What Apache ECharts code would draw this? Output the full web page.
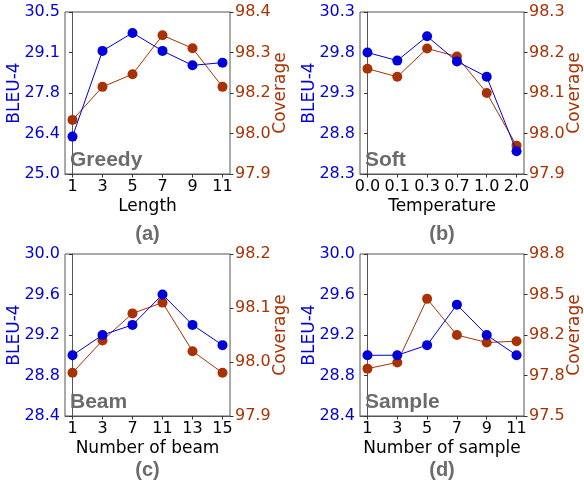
<!DOCTYPE html>
<html>
<head>
<meta charset="utf-8">
<script src="https://cdn.jsdelivr.net/npm/echarts@6/dist/echarts.min.js"></script>
<style>
  html, body { margin: 0; padding: 0; background: #fff; }
  #chart { width: 584px; height: 486px; }
</style>
</head>
<body>
<div id="chart"></div>
<script>
// x categories for each panel
const catsA = ["1", "3", "5", "7", "9", "11"];
const catsB = ["0.0", "0.1", "0.3", "0.7", "1.0", "2.0"];
const catsC = ["1", "3", "7", "11", "13", "15"];
const catsD = ["1", "3", "5", "7", "9", "11"];

// BLEU-4 (left axis)
const bleuA = [26.27, 29.18, 29.79, 29.18, 28.69, 28.78];
const bleuB = [29.8, 29.7, 30.0, 29.69, 29.5, 28.58];
const bleuC = [29.0, 29.2, 29.3, 29.6, 29.3, 29.1];
const bleuD = [29.0, 29.0, 29.1, 29.5, 29.2, 29.0];

// Coverage (right axis)
const covA = [98.067, 98.169, 98.208, 98.328, 98.288, 98.169];
const covB = [98.16, 98.14, 98.21, 98.19, 98.10, 97.97];
const covC = [97.98, 98.04, 98.09, 98.11, 98.02, 97.98];
const covD = [97.88, 97.93, 98.44, 98.15, 98.09, 98.1];

// tick values
const leftTicksA = [25.0, 26.375, 27.75, 29.125, 30.5];
const rightTicksA = [97.9, 98.025, 98.15, 98.275, 98.4];
const leftTicksB = [28.3, 28.8, 29.3, 29.8, 30.3];
const rightTicksB = [97.9, 98.0, 98.1, 98.2, 98.3];
const leftTicksC = [28.4, 28.8, 29.2, 29.6, 30.0];
const rightTicksC = [97.9, 98.0, 98.1, 98.2];
const leftTicksD = [28.4, 28.8, 29.2, 29.6, 30.0];
const rightTicksD = [97.5, 97.825, 98.15, 98.475, 98.8];

const xNames = ["Length", "Temperature", "Number of beam", "Number of sample"];
const tags = ["Greedy", "Soft", "Beam", "Sample"];
const letters = ["(a)", "(b)", "(c)", "(d)"];

const BLUE = "#0000d8";
const RED = "#a93204";
const FONT = "DejaVu Sans";

const panels = [
  { cats: catsA, bleu: bleuA, cov: covA, lt: leftTicksA, rt: rightTicksA },
  { cats: catsB, bleu: bleuB, cov: covB, lt: leftTicksB, rt: rightTicksB },
  { cats: catsC, bleu: bleuC, cov: covC, lt: leftTicksC, rt: rightTicksC },
  { cats: catsD, bleu: bleuD, cov: covD, lt: leftTicksD, rt: rightTicksD }
];
const boxes = [
  { left: 65, top: 12, width: 165, height: 162, letterY: 234 },
  { left: 360, top: 12, width: 164, height: 162, letterY: 234 },
  { left: 65, top: 254, width: 165, height: 162, letterY: 470 },
  { left: 360, top: 254, width: 164, height: 162, letterY: 470 }
];

const chart = echarts.init(document.getElementById("chart"), null, { renderer: "canvas" });

const grid = [], xAxis = [], yAxis = [], series = [], graphic = [];

panels.forEach((p, i) => {
  const b = boxes[i];
  grid.push({ left: b.left, top: b.top, width: b.width, height: b.height,
    show: true, borderColor: "#555", borderWidth: 1, backgroundColor: "transparent" });
  const idx = p.cats.map((_, k) => k);
  xAxis.push({
    type: "value", gridIndex: i, min: -0.25, max: 5.25,
    name: xNames[i], nameLocation: "middle", nameGap: 24, nameMoveOverlap: false,
    nameTextStyle: { fontFamily: FONT, fontSize: 17, color: "#000" },
    axisLine: { show: true, onZero: false, lineStyle: { color: "#555" } },
    axisTick: { show: true, customValues: idx, length: 3.5, lineStyle: { color: "#333" } },
    axisLabel: { customValues: idx, margin: 5, fontFamily: FONT, fontSize: 16, color: "#000",
      formatter: v => p.cats[Math.round(v)] },
    splitLine: { show: false }
  });
  yAxis.push({
    type: "value", gridIndex: i, position: "left",
    min: p.lt[0], max: p.lt[p.lt.length - 1],
    name: "BLEU-4", nameLocation: "middle", nameRotate: 90, nameGap: 42, nameMoveOverlap: false,
    nameTextStyle: { fontFamily: FONT, fontSize: 17, color: BLUE },
    axisLine: { show: true, lineStyle: { color: "#555" } },
    axisTick: { show: true, customValues: p.lt, length: 3.5, lineStyle: { color: "#333" } },
    axisLabel: { customValues: p.lt, margin: 5, fontFamily: FONT, fontSize: 16, color: BLUE,
      formatter: v => v.toFixed(1) },
    splitLine: { show: false }
  });
  yAxis.push({
    type: "value", gridIndex: i, position: "right",
    min: p.rt[0], max: p.rt[p.rt.length - 1],
    name: "Coverage", nameLocation: "middle", nameRotate: 90, nameGap: 42, nameMoveOverlap: false,
    nameTextStyle: { fontFamily: FONT, fontSize: 17, color: RED },
    axisLine: { show: true, lineStyle: { color: "#aaa" } },
    axisTick: { show: true, customValues: p.rt, length: 3.5, lineStyle: { color: "#333" } },
    axisLabel: { customValues: p.rt, margin: 5, fontFamily: FONT, fontSize: 16, color: RED,
      formatter: v => (Math.round(v * 10 + 1e-6) / 10).toFixed(1) },
    splitLine: { show: false }
  });
  series.push({
    type: "line", xAxisIndex: i, yAxisIndex: 2 * i, z: 3,
    data: p.bleu.map((v, k) => [k, v]),
    symbol: "circle", symbolSize: 10,
    itemStyle: { color: BLUE }, lineStyle: { color: BLUE, width: 1 }
  });
  series.push({
    type: "line", xAxisIndex: i, yAxisIndex: 2 * i + 1, z: 2,
    data: p.cov.map((v, k) => [k, v]),
    symbol: "circle", symbolSize: 10,
    itemStyle: { color: RED }, lineStyle: { color: RED, width: 1 }
  });
  graphic.push({
    type: "text", left: b.left + 5, top: b.top + b.height - 24, z: 10,
    style: { text: tags[i], fontFamily: "Liberation Sans", fontWeight: "bold", fontSize: 21, fill: "#6b6b6b" }
  });
  graphic.push({
    type: "text", x: b.left + b.width / 2, y: b.letterY, z: 10,
    style: { text: letters[i], fontFamily: "Liberation Sans", fontWeight: "bold", fontSize: 20, fill: "#6b6b6b",
      align: "center", verticalAlign: "middle" }
  });
});

chart.setOption({
  animation: false,
  backgroundColor: "#fff",
  grid, xAxis, yAxis, series, graphic
});
</script>
</body>
</html>
